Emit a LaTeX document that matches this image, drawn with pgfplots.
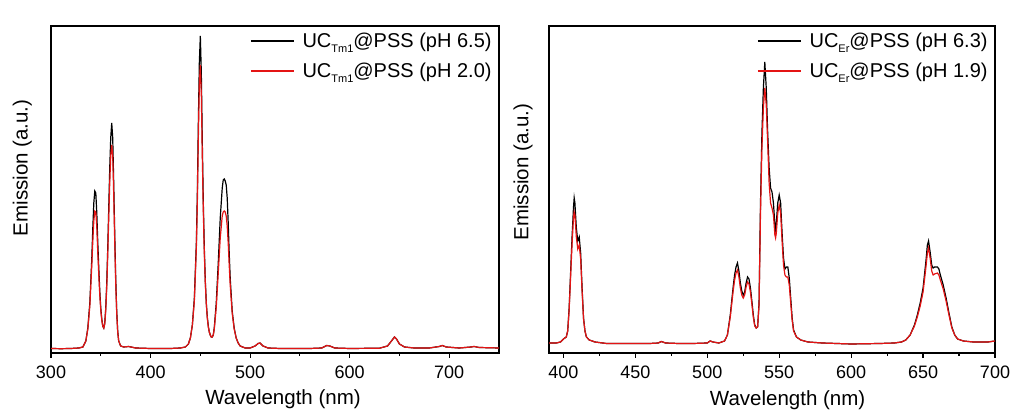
\documentclass[border=0pt]{standalone}
\usepackage{fontspec}
\setmainfont{Liberation Sans}
\usepackage{pgfplots}
\pgfplotsset{compat=1.18}
\usepackage{pgfplotstable}

\newcommand{\sub}[1]{\raisebox{-4.5pt}{\fontsize{11}{11}\selectfont #1}}
\definecolor{myred}{RGB}{228,20,20}

\pgfplotstableread{
x y
300 4.5
310 4.3
320 4.5
328 5
332 6
335 12
337 25
339 50
341 95
342 125
343 150
344 162
345 160
346 140
347 110
348 85
349 62
350 45
351 34
352 27
353 25
354 30
355 45
356 70
357 105
358 145
359 185
360 215
361 230
362 215
363 170
364 120
365 75
366 42
367 22
368 12
370 7
373 6
378 6.5
385 5
400 4.5
420 4.5
430 5
435 6
438 9
440 15
442 28
444 55
446 110
447 160
448 230
449 290
450 317
451 280
452 210
453 150
454 105
455 72
456 50
457 36
458 27
459 21
460 18
461 16
462 16
463 18
464 25
466 50
468 90
470 135
472 165
473 173
474 174
475 172
476 168
477 155
478 130
479 100
480 75
482 42
484 25
486 15
488 10
490 7
495 5
500 5
505 7
508 9.5
510 10
513 7
518 5
530 4.5
560 4.5
572 5
577 7.5
580 7
585 5
600 4.5
630 4.8
638 7
642 12
645 16
647 14
650 9
655 6
665 5
680 5
690 6.5
693 7.5
697 6
710 5
722 6
725 6.5
730 5.5
750 5
}\tmblack

\pgfplotstableread{
x y
300 4.5
310 4.3
320 4.5
328 5
332 6
335 12
337 24
339 47
341 88
342 112
343 132
344 142
345 141
346 126
347 100
348 78
349 58
350 43
351 33
352 27
353 25
354 29
355 43
356 66
357 98
358 135
359 170
360 197
361 208
362 197
363 158
364 112
365 70
366 40
367 21
368 12
370 7
373 6
378 6.5
385 5
400 4.5
420 4.5
430 5
435 6
438 9
440 15
442 28
444 52
446 105
447 150
448 215
449 268
450 288
451 258
452 196
453 142
454 100
455 70
456 49
457 35
458 26
459 21
460 18
461 16
462 16
463 18
464 24
466 46
468 80
470 115
472 137
473 141
474 142
475 141
476 137
477 127
478 110
479 88
480 68
482 40
484 24
486 15
488 10
490 7
495 5
500 5
505 7
508 9.5
510 10
513 7
518 5
530 4.5
560 4.5
572 5
577 7.5
580 7
585 5
600 4.5
630 4.8
638 7
642 12
645 16
647 14
650 9
655 6
665 5
680 5
690 6.5
693 7.5
697 6
710 5
722 6
725 6.5
730 5.5
750 5
}\tmred

\pgfplotstableread{
x y
390 10
395 10
398 11
400 14
402 16
403 22
404 45
405 80
406 115
407 145
407.5 155
408 150
409 125
410 112
411 116
412 100
413 65
414 35
415 22
416 16
418 13
422 11
430 9.5
440 9.5
450 9.5
460 9.5
466 10
468 11.5
471 10
480 9.5
490 9.5
500 10
502 12
504 11
508 10
512 12
514 18
516 38
518 66
519 78
520 86
521 90
522 82
523 70
524 62
525 58
526 61
527 70
528 76
529 74
530 65
531 52
532 38
533 28
534 25
535 26
536 50
537 150
538 220
539 265
540 291
541 265
542 220
543 185
544 165
545 161
546 150
547 128
547.5 123
548 130
549 150
550 158
551 150
552 120
553 95
554 84
555 86
556 86
557 75
558 55
559 35
560 23
562 16
565 13
570 11
580 10
600 9
620 9.5
630 10
635 11
638 13
641 18
644 28
646 38
648 50
650 65
652 92
653 108
653.8 112
655 100
656 88
657 85
658 86
660 86
661 84
662 78
664 68
666 55
668 40
670 26
672 18
674 14
678 12
685 11
695 11
700 12
}\erblack

\pgfplotstableread{
x y
390 10
395 10
398 11
400 14
402 16
403 22
404 43
405 76
406 108
407 135
407.5 141
408 138
409 116
410 104
411 108
412 94
413 62
414 34
415 22
416 16
418 13
422 11
430 9.5
440 9.5
450 9.5
460 9.5
466 10
468 11.5
471 10
480 9.5
490 9.5
500 10
502 12
504 11
508 10
512 12
514 18
516 36
518 62
519 73
520 80
521 83
522 76
523 65
524 58
525 55
526 58
527 66
528 71
529 69
530 61
531 49
532 36
533 27
534 25
535 26
536 48
537 140
538 205
539 245
540 265
541 248
542 210
543 170
544 150
545 145
546 138
547 118
547.5 115
548 120
549 140
550 148
551 140
552 112
553 88
554 78
555 76
556 76
557 68
558 50
559 33
560 22
562 16
565 13
570 11
580 10
600 9
620 9.5
630 10
635 11
638 13
641 18
644 27
646 36
648 47
650 61
652 86
653 100
653.8 105
655 94
656 82
657 78
658 79
660 80
661 78
662 73
664 64
666 52
668 38
670 25
672 18
674 14
678 12
685 11
695 11
700 12
}\erred

\pgfplotsset{
  myaxis/.style={
    scale only axis, height=327pt, anchor=south west,
    axis line style={line width=1.2pt},
    ytick=\empty, xtick pos=lower, tick align=outside,
    major tick length=5pt, minor tick length=3pt, minor x tick num=1,
    every tick/.style={line width=1.2pt, black},
    ticklabel style={font=\fontsize{18}{18}\selectfont},
    xticklabel style={yshift=-4pt},
    /pgf/number format/assume math mode=true,
    label style={font=\fontsize{20.5}{20.5}\selectfont},
    xlabel={Wavelength (nm)}, ylabel={Emission (a.u.)},
    ymin=0, ymax=327,
    legend style={draw=none, fill=none, font=\fontsize{20}{20}\selectfont,
      anchor=north east, row sep=10pt},
    legend cell align=left,
    legend image code/.code={\draw[#1, line width=1.5pt] (0pt,0.5pt) -- (43pt,0.5pt); \path (49pt,0.5pt);},
  }
}

\begin{document}
\begin{tikzpicture}[x=1pt,y=1pt]
\path[use as bounding box] (0,0) rectangle (1012,419);
\begin{axis}[myaxis, at={(51pt,66pt)}, width=448pt, xmin=300, xmax=750,
  xtick={300,400,500,600,700},
  xlabel style={at={(axis description cs:0.518,-0.14)}, anchor=center},
  ylabel style={at={(axis description cs:-0.064,0.566)}, anchor=center},
  legend style={at={(rel axis cs:0.995,0.99)}}]
\addplot[black, line width=1.2pt] table[x=x,y=y] {\tmblack};
\addlegendentry{UC\sub{Tm1}@PSS (pH 6.5)}
\addplot[myred, line width=1.2pt] table[x=x,y=y] {\tmred};
\addlegendentry{UC\sub{Tm1}@PSS (pH 2.0)}
\end{axis}
\begin{axis}[myaxis, at={(549pt,66pt)}, width=446pt, xmin=390, xmax=700,
  xtick={400,450,500,550,600,650,700},
  xlabel style={at={(axis description cs:0.535,-0.145)}, anchor=center},
  ylabel style={at={(axis description cs:-0.058,0.553)}, anchor=center},
  legend style={at={(rel axis cs:0.995,0.99)}}]
\addplot[black, line width=1.2pt] table[x=x,y=y] {\erblack};
\addlegendentry{UC\sub{Er}@PSS (pH 6.3)}
\addplot[myred, line width=1.2pt] table[x=x,y=y] {\erred};
\addlegendentry{UC\sub{Er}@PSS (pH 1.9)}
\end{axis}
\end{tikzpicture}
\end{document}
